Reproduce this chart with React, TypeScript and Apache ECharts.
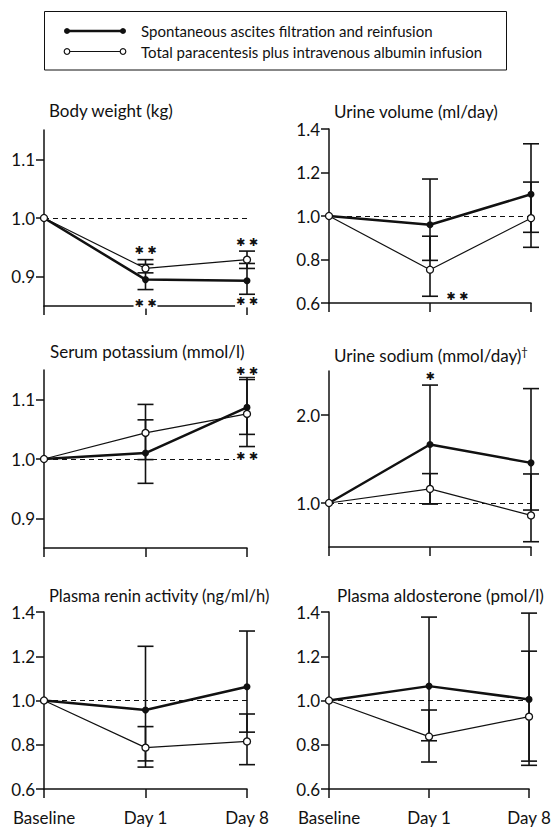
import React, { useEffect, useRef } from "react";
import * as echarts from "echarts";

const FONT = 'Lato, "Open Sans", sans-serif';
const INK = "#111";

// ---------- data ----------
const categories = ["Baseline", "Day 1", "Day 8"];
const seriesNames = [
  "Spontaneous ascites filtration and reinfusion",
  "Total paracentesis plus intravenous albumin infusion",
];
const panelTitles = [
  "Body weight (kg)",
  "Urine volume (ml/day)",
  "Serum potassium (mmol/l)",
  "Urine sodium (mmol/day)",
  "Plasma renin activity (ng/ml/h)",
  "Plasma aldosterone (pmol/l)",
];

// means (ratio to baseline) for SAFR (filled) and TP (open)
const bodyWeightSAFR = [1.0, 0.895, 0.893];
const bodyWeightTP = [1.0, 0.914, 0.929];
const urineVolumeSAFR = [1.0, 0.96, 1.1];
const urineVolumeTP = [1.0, 0.753, 0.99];
const potassiumSAFR = [1.0, 1.01, 1.087];
const potassiumTP = [1.0, 1.044, 1.076];
const urineSodiumSAFR = [1.0, 1.665, 1.456];
const urineSodiumTP = [1.0, 1.16, 0.859];
const reninSAFR = [1.0, 0.957, 1.062];
const reninTP = [1.0, 0.787, 0.815];
const aldosteroneSAFR = [1.0, 1.065, 1.005];
const aldosteroneTP = [1.0, 0.837, 0.927];

// error bars [x, low, high]
const bodyWeightSAFRErr = [[1, 0.878, 0.921], [2, 0.87, 0.9225]];
const bodyWeightTPErr = [[1, 0.9065, 0.929], [2, 0.914, 0.9436]];
const urineVolumeSAFRErr = [[1, 0.796, 1.17], [2, 0.925, 1.332]];
const urineVolumeTPErr = [[1, 0.631, 0.907], [2, 0.856, 1.156]];
const potassiumSAFRErr = [[1, 0.959, 1.066], [2, 1.0415, 1.138]];
const potassiumTPErr = [[1, 0.999, 1.092], [2, 1.021, 1.134]];
const urineSodiumSAFRErr = [[1, 0.99, 2.34], [2, 0.92, 2.3]];
const urineSodiumTPErr = [[1, 0.99, 1.334], [2, 0.56, 1.33]];
const reninSAFRErr = [[1, 0.699, 1.245], [2, 0.857, 1.314]];
const reninTPErr = [[1, 0.727, 0.882], [2, 0.71, 0.939]];
const aldosteroneSAFRErr = [[1, 0.818, 1.377], [2, 0.707, 1.395]];
const aldosteroneTPErr = [[1, 0.722, 0.957], [2, 0.726, 1.223]];

// significance marks [x, y, text]
const bodyWeightStars = [[1, 0.945, "✱ ✱"], [2, 0.959, "✱ ✱"], [1, 0.855, "✱ ✱"], [2, 0.857, "✱ ✱"]];
const urineVolumeStars = [[1.27, 0.632, "✱ ✱"]];
const potassiumStars = [[2, 1.148, "✱ ✱"], [2, 1.005, "✱ ✱"]];
const urineSodiumStars = [[1, 2.44, "✱"]];
const reninStars: any[] = [];
const aldosteroneStars: any[] = [];

// y-axis scales and tick values
const yRanges = [[0.85, 1.15], [0.6, 1.4], [0.85, 1.15], [0.5, 2.5], [0.6, 1.4], [0.6, 1.4]];
const yTicks = [
  [0.9, 1.0, 1.1],
  [0.6, 0.8, 1.0, 1.2, 1.4],
  [0.9, 1.0, 1.1],
  [1.0, 2.0],
  [0.6, 0.8, 1.0, 1.2, 1.4],
  [0.6, 0.8, 1.0, 1.2, 1.4],
];

const panels = [
  { safr: bodyWeightSAFR, tp: bodyWeightTP, safrErr: bodyWeightSAFRErr, tpErr: bodyWeightTPErr, stars: bodyWeightStars },
  { safr: urineVolumeSAFR, tp: urineVolumeTP, safrErr: urineVolumeSAFRErr, tpErr: urineVolumeTPErr, stars: urineVolumeStars },
  { safr: potassiumSAFR, tp: potassiumTP, safrErr: potassiumSAFRErr, tpErr: potassiumTPErr, stars: potassiumStars },
  { safr: urineSodiumSAFR, tp: urineSodiumTP, safrErr: urineSodiumSAFRErr, tpErr: urineSodiumTPErr, stars: urineSodiumStars },
  { safr: reninSAFR, tp: reninTP, safrErr: reninSAFRErr, tpErr: reninTPErr, stars: reninStars },
  { safr: aldosteroneSAFR, tp: aldosteroneTP, safrErr: aldosteroneSAFRErr, tpErr: aldosteroneTPErr, stars: aldosteroneStars },
];

// ---------- layout ----------
const grids = [
  { left: 44, top: 130, width: 203, height: 176 },
  { left: 329, top: 129, width: 202, height: 174 },
  { left: 44, top: 370, width: 203, height: 178 },
  { left: 329, top: 371, width: 202, height: 176 },
  { left: 44, top: 612, width: 203, height: 177 },
  { left: 329, top: 612, width: 202, height: 177 },
];
const titlePos = [
  { left: 49, top: 102, size: 17 },
  { left: 334, top: 103, size: 17 },
  { left: 50, top: 343, size: 17 },
  { left: 334, top: 347, size: 17 },
  { left: 49, top: 587, size: 16.5 },
  { left: 337, top: 587, size: 17 },
];

function errRender(params: any, api: any) {
  const x = api.value(0);
  const lo = api.coord([x, api.value(1)]);
  const hi = api.coord([x, api.value(2)]);
  const w = 8;
  const st = { stroke: INK, lineWidth: 1.6 };
  return {
    type: "group",
    children: [
      { type: "line", shape: { x1: lo[0], y1: lo[1], x2: hi[0], y2: hi[1] }, style: st },
      { type: "line", shape: { x1: lo[0] - w, y1: lo[1], x2: lo[0] + w, y2: lo[1] }, style: st },
      { type: "line", shape: { x1: hi[0] - w, y1: hi[1], x2: hi[0] + w, y2: hi[1] }, style: st },
    ],
  };
}

function buildOption() {
  const series: any[] = [];
  panels.forEach((p, i) => {
    series.push({
      type: "custom",
      name: seriesNames[0] + " err",
      xAxisIndex: i,
      yAxisIndex: i,
      renderItem: errRender,
      encode: { x: 0, y: [1, 2] },
      data: [...p.safrErr, ...p.tpErr],
      z: 3,
      silent: true,
    });
    series.push({
      type: "line",
      name: seriesNames[0],
      xAxisIndex: i,
      yAxisIndex: i,
      data: p.safr.map((v, k) => [k, v]),
      symbol: "circle",
      symbolSize: 7,
      showSymbol: true,
      lineStyle: { color: INK, width: 2.5 },
      itemStyle: { color: INK },
      z: 4,
      markLine: {
        silent: true,
        symbol: "none",
        label: { show: false },
        lineStyle: { type: [5, 4], width: 1.2, color: INK },
        data: [{ yAxis: 1 }],
      },
    });
    series.push({
      type: "line",
      name: seriesNames[1],
      xAxisIndex: i,
      yAxisIndex: i,
      data: p.tp.map((v, k) => [k, v]),
      symbol: "circle",
      symbolSize: 7,
      showSymbol: true,
      lineStyle: { color: INK, width: 1.2 },
      itemStyle: { color: "#fff", borderColor: INK, borderWidth: 1.3 },
      z: 5,
    });
    const texts = p.stars.map((s: any) => s[2]);
    series.push({
      type: "custom",
      name: "stars" + i,
      xAxisIndex: i,
      yAxisIndex: i,
      encode: { x: 0, y: 1 },
      data: p.stars.map((s: any) => [s[0], s[1]]),
      z: 6,
      silent: true,
      renderItem: (params: any, api: any) => {
        const pt = api.coord([api.value(0), api.value(1)]);
        return {
          type: "text",
          x: pt[0],
          y: pt[1],
          style: {
            text: texts[params.dataIndex],
            align: "center",
            verticalAlign: "middle",
            fill: INK,
            font: '11px "DejaVu Sans"',
            backgroundColor: "#fff",
            padding: [0, 1],
          },
        };
      },
    });
  });

  const titles: any[] = panelTitles.map((t, i) => ({
    text: t,
    left: titlePos[i].left,
    top: titlePos[i].top,
    padding: 0,
    textStyle: {
      fontFamily: FONT,
      fontSize: titlePos[i].size,
      fontWeight: "normal",
      color: INK,
    },
  }));
  // dagger superscript on urine sodium
  titles.push({
    text: "†",
    left: 521,
    top: 345,
    padding: 0,
    textStyle: { fontFamily: FONT, fontSize: 12, fontWeight: "normal", color: INK },
  });

  return {
    animation: false,
    backgroundColor: "#fff",
    title: titles,
    grid: grids.map((g) => ({ ...g, containLabel: false })),
    xAxis: grids.map((g, i) => ({
      type: "value",
      gridIndex: i,
      min: 0,
      max: 2,
      interval: 1,
      axisLine: { show: true, onZero: false, lineStyle: { color: INK, width: 1.5 } },
      axisTick: { show: true, length: 9, lineStyle: { color: INK, width: 1.5 } },
      splitLine: { show: false },
      axisLabel: {
        show: i >= 4,
        formatter: (v: number) => categories[Math.round(v)] ?? "",
        fontFamily: FONT,
        fontSize: 17,
        color: INK,
        margin: 20,
      },
    })),
    yAxis: grids.map((g, i) => ({
      type: "value",
      gridIndex: i,
      min: yRanges[i][0],
      max: yRanges[i][1],
      axisLine: { show: true, onZero: false, lineStyle: { color: INK, width: 1.5 } },
      axisTick: { show: true, length: 8, customValues: yTicks[i], lineStyle: { color: INK, width: 1.5 } },
      splitLine: { show: false },
      axisLabel: {
        show: true,
        customValues: yTicks[i],
        formatter: (v: number) => v.toFixed(1),
        fontFamily: FONT,
        fontSize: 17,
        color: INK,
        margin: 9,
      },
    })),
    graphic: [
      { type: "rect", shape: { x: 44.5, y: 11.5, width: 462, height: 58.5 }, style: { fill: "none", stroke: INK, lineWidth: 1 } },
      { type: "line", shape: { x1: 67, y1: 31, x2: 123, y2: 31 }, style: { stroke: INK, lineWidth: 2.5 } },
      { type: "circle", shape: { cx: 67, cy: 31, r: 3 }, style: { fill: INK } },
      { type: "circle", shape: { cx: 123, cy: 31, r: 3 }, style: { fill: INK } },
      { type: "line", shape: { x1: 67, y1: 51.5, x2: 123, y2: 51.5 }, style: { stroke: INK, lineWidth: 1.2 } },
      { type: "circle", shape: { cx: 67, cy: 51.5, r: 2.8 }, style: { fill: "#fff", stroke: INK, lineWidth: 1.2 } },
      { type: "circle", shape: { cx: 123, cy: 51.5, r: 2.8 }, style: { fill: "#fff", stroke: INK, lineWidth: 1.2 } },
      { type: "text", x: 141, y: 31, style: { text: seriesNames[0], font: "15px " + FONT, fill: INK, verticalAlign: "middle" } },
      { type: "text", x: 141, y: 51.5, style: { text: seriesNames[1], font: "15px " + FONT, fill: INK, verticalAlign: "middle" } },
    ],
    series,
  };
}

export default function App() {
  const ref = useRef<HTMLDivElement>(null);
  useEffect(() => {
    const chart = echarts.init(ref.current!, null, { renderer: "svg" });
    chart.setOption(buildOption() as any);
    return () => chart.dispose();
  }, []);
  return (
    <div
      ref={ref}
      style={{ position: "absolute", left: 0, top: 0, width: 554, height: 831, background: "#fff" }}
    />
  );
}
